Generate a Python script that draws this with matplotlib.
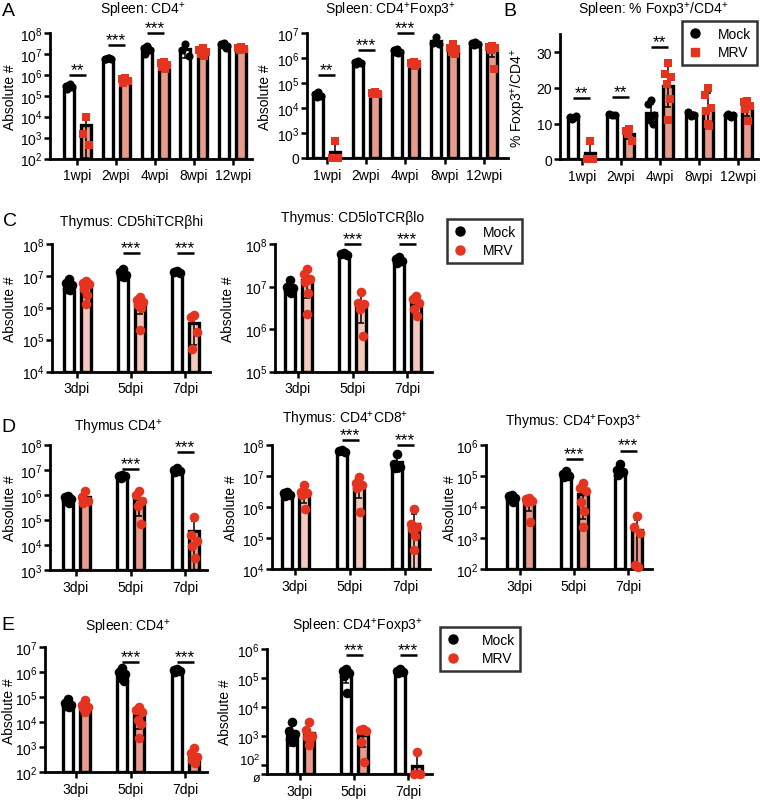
import numpy as np
import matplotlib
matplotlib.use('Agg')
import matplotlib.pyplot as plt
from matplotlib.lines import Line2D
from matplotlib.ticker import NullLocator

plt.rcParams['font.family'] = ['Liberation Sans', 'DejaVu Sans']
plt.rcParams['mathtext.fontset'] = 'custom'
plt.rcParams['mathtext.rm'] = 'Liberation Sans'
plt.rcParams['mathtext.it'] = 'Liberation Sans:italic'
plt.rcParams['mathtext.bf'] = 'Liberation Sans:bold'

# ---------------- data ----------------
wpi_labels = ['1wpi', '2wpi', '4wpi', '8wpi', '12wpi']
dpi_labels = ['3dpi', '5dpi', '7dpi']

# A: Spleen CD4+
A_cd4_mock = [[3.2e5, 2.8e5, 2.5e5, 2.2e5, 3.5e5], [6.5e6, 6e6, 5.5e6, 5.8e6, 6.2e6],
              [2.3e7, 2e7, 1.5e7, 1e7, 1.8e7, 2.2e7], [3e7, 1.5e7, 8e6], [3.2e7, 3e7, 2.5e7, 2.8e7, 2e7]]
A_cd4_mrv = [[1e4, 1.5e3, 4.5e2], [7e5, 6e5, 5e5, 4e5], [4e6, 3.5e6, 3e6, 2.5e6, 2e6],
             [2e7, 1.5e7, 1.2e7, 1e7, 8e6], [2.2e7, 2e7, 1.8e7, 1.5e7]]
A_cd4_sig_groups = [0, 1, 2]
A_cd4_sig_labels = ['**', '***', '***']
A_cd4_sig_y = [1e6, 2.6e7, 1e8]

# A: Spleen CD4+Foxp3+
A_treg_mock = [[4.5e4, 3.5e4, 3e4, 2.8e4], [7.5e5, 7e5, 6.5e5, 6e5], [2.2e6, 2e6, 1.8e6, 1.7e6, 1.6e6],
               [7e6, 4e6, 3.5e6], [4.5e6, 4e6, 3.5e6, 3.2e6]]
A_treg_mrv = [[5e2, 0, 0], [4.2e4, 4e4, 3.8e4, 3.7e4], [7e5, 6.5e5, 6e5, 5.5e5, 5e5],
              [3.5e6, 2.5e6, 2.2e6, 1.8e6, 1.5e6], [3e6, 2.8e6, 2.5e6, 2e6, 3.5e5]]
A_treg_sig_groups = [0, 1, 2]
A_treg_sig_labels = ['**', '***', '***']
A_treg_sig_y = [2.1e5, 2.1e6, 1e7]

# B: % Foxp3+/CD4+
B_mock = [[11.5, 11.8, 12, 11.2], [12.5, 12.8, 12.3], [16.5, 15.5, 12.5, 11, 10, 12],
          [12, 13.3, 12.5], [12, 12.5, 12.3, 12.8, 11.8]]
B_mrv = [[5.2, 0, 0.2], [8.5, 8, 5.2, 7], [27, 24, 23, 21, 17, 11],
         [20, 18, 14.5, 13.5, 9.4, 10], [16.3, 16, 15, 14, 10.7]]
B_sig_groups = [0, 1, 2]
B_sig_labels = ['**', '**', '**']
B_sig_y = [17.1, 17.4, 31.4]

# C: Thymus CD5hiTCRbhi
C_hi_mock = [[8e6, 6e6, 5e6, 4e6, 3.5e6], [1.6e7, 1.3e7, 1.1e7, 1e7, 9e6], [1.4e7, 1.3e7, 1.2e7]]
C_hi_mrv = [[7e6, 6e6, 5.5e6, 4e6, 2.5e6, 1.3e6], [2.2e6, 1.8e6, 1.5e6, 1.2e6, 1e6, 2e5],
            [6e5, 5e5, 1.7e5, 5e4]]
C_hi_sig_groups = [1, 2]
C_hi_sig_labels = ['***', '***']
C_hi_sig_y = [5.1e7, 5.1e7]

# C: Thymus CD5loTCRblo
C_lo_mock = [[1.4e7, 1e7, 9e6, 8e6, 7e6], [6e7, 5.8e7, 5.5e7], [5e7, 4.5e7, 4e7, 3.5e7]]
C_lo_mrv = [[2.6e7, 2e7, 1.5e7, 1.3e7, 7e6, 2.2e6], [7.5e6, 4e6, 3.8e6, 3e6, 7e5],
            [6e6, 5e6, 4e6, 3e6, 2e6]]
C_lo_sig_groups = [1, 2]
C_lo_sig_labels = ['***', '***']
C_lo_sig_y = [1e8, 1e8]

# D: Thymus CD4+
D_cd4_mock = [[9e5, 8e5, 7e5, 6e5, 5e5], [6.5e6, 6e6, 5.5e6, 5e6], [1.2e7, 1e7, 9e6, 8e6]]
D_cd4_mrv = [[1.4e6, 8e5, 6e5, 5e5], [1.5e6, 1e6, 6e5, 3.5e5, 7e4], [1.3e5, 2.5e4, 1.5e4, 9e3, 3e3]]
D_cd4_sig_groups = [1, 2]
D_cd4_sig_labels = ['***', '***']
D_cd4_sig_y = [1.1e7, 5.1e7]

# D: Thymus CD4+CD8+
D_dp_mock = [[3e6, 2.8e6, 2.5e6, 2.2e6], [7e7, 6.5e7, 6e7], [5e7, 2.5e7, 2e7, 1.8e7]]
D_dp_mrv = [[5e6, 3e6, 2.8e6, 2.5e6, 8.5e5], [9e6, 6e6, 5e6, 4e6, 7e5],
            [8.5e5, 2.8e5, 2.2e5, 1.9e5, 1.2e5, 4e4]]
D_dp_sig_groups = [1, 2]
D_dp_sig_labels = ['***', '***']
D_dp_sig_y = [1.4e8, 1e8]

# D: Thymus CD4+Foxp3+
D_treg_mock = [[2.5e4, 2.2e4, 2e4, 1.8e4, 1.5e4], [1.5e5, 1.2e5, 1e5, 9e4], [2.4e5, 1.6e5, 1.3e5, 1.1e5]]
D_treg_mrv = [[2e4, 1.8e4, 1.6e4, 1.4e4, 3.2e3], [6e4, 4e4, 3.4e4, 1.4e4, 7.5e3, 2.2e3],
              [5.2e3, 2.2e3, 1.5e3, 1.3e2, 1.2e2]]
D_treg_sig_groups = [1, 2]
D_treg_sig_labels = ['***', '***']
D_treg_sig_y = [3.5e5, 6.6e5]

# E: Spleen CD4+
E_cd4_mock = [[8e4, 6e4, 5e4, 4.5e4, 4e4], [1.5e6, 1e6, 8e5, 6e5, 4.5e5], [1.3e6, 1.2e6, 1.1e6, 1e6]]
E_cd4_mrv = [[7.5e4, 5e4, 4e4, 3.5e4, 3e4, 2.5e4], [4e4, 3e4, 2.5e4, 1.2e4, 8e3, 2.3e3],
             [9e2, 6e2, 4e2, 3e2, 2.2e2]]
E_cd4_sig_groups = [1, 2]
E_cd4_sig_labels = ['***', '***']
E_cd4_sig_y = [2.5e6, 2.5e6]

# E: Spleen CD4+Foxp3+
E_treg_mock = [[3e3, 1.5e3, 1.2e3, 8e2, 6e2], [2e5, 1.8e5, 1.5e5, 1.2e5, 3e4], [2e5, 1.8e5, 1.6e5, 1.5e5]]
E_treg_mrv = [[3e3, 1.6e3, 1e3, 9e2, 8e2, 5e2], [1.8e3, 1.6e3, 1.5e3, 6e2, 1.3e2], [2.8e2, 0, 0]]
E_treg_sig_groups = [1, 2]
E_treg_sig_labels = ['***', '***']
E_treg_sig_y = [6.2e5, 6.2e5]

# ---------------- style ----------------
RED = '#E4341F'
SALMON = '#E99B8B'
PALE = '#F5C8BE'
W, H = 760, 803

fig = plt.figure(figsize=(W / 100, H / 100), dpi=100)


def make_axes(l, t, r, b):
    return fig.add_axes([l / W, 1 - b / H, (r - l) / W, (b - t) / H])


def decade_labels(lo, hi):
    return [10.0 ** k for k in range(lo, hi + 1)], [r'$10^{%d}$' % k for k in range(lo, hi + 1)]


def panel(box, first_px, spacing_px, mock, mrv, ylim, yticks, yticklabels, xlabels,
          sig_groups, sig_labels, sig_y, fill, mrv_marker, log=True, msize=38):
    l, t, r, b = box
    ax = make_axes(l, t, r, b)
    n = len(mock)
    x = np.arange(n)
    xl = (l - first_px) / spacing_px
    xr = (r - first_px) / spacing_px
    off = 8.5 / spacing_px
    bw = 10.0 / spacing_px
    y0 = ylim[0]
    if log:
        ax.set_yscale('log')
    mock_mean = np.array([np.mean(p) for p in mock])
    mrv_mean = np.array([np.mean(p) for p in mrv])
    mock_sd = np.array([np.std(p, ddof=1) for p in mock])
    mrv_sd = np.array([np.std(p, ddof=1) for p in mrv])
    ax.bar(x - off, mock_mean - y0, bw, bottom=y0, color='white', edgecolor='black', linewidth=2.4, zorder=2)
    ax.bar(x + off, mrv_mean - y0, bw, bottom=y0, color=fill, edgecolor='black', linewidth=2.4, zorder=2)
    for xs, mn, sd in ((x - off, mock_mean, mock_sd), (x + off, mrv_mean, mrv_sd)):
        lower = np.minimum(sd, mn - y0 * 1.0001)
        ax.errorbar(xs, mn, yerr=[lower, sd], fmt='none', ecolor='black', elinewidth=1.1,
                    capsize=2.5, capthick=1.1, zorder=3)
    jit = np.array([0, -3, 3, -1.5, 1.5, 0, -3, 3]) / spacing_px
    for i in range(n):
        pm = np.maximum(np.array(mock[i], float), y0)
        pr = np.maximum(np.array(mrv[i], float), y0)
        ax.scatter(x[i] - off + jit[:len(pm)], pm, s=msize, marker='o', color='black',
                   zorder=4, clip_on=False, linewidths=0)
        ax.scatter(x[i] + off + jit[:len(pr)], pr, s=msize * (0.8 if mrv_marker == 's' else 1.0),
                   marker=mrv_marker, color=RED, zorder=4, clip_on=False, linewidths=0)
    for g, lab, yv in zip(sig_groups, sig_labels, sig_y):
        ax.plot([g - off, g + off], [yv, yv], color='black', lw=1.8, clip_on=False, zorder=5,
                solid_capstyle='butt')
        ax.annotate(lab, (g, yv), xytext=(0, 0.8), textcoords='offset points', ha='center',
                    va='baseline', fontsize=12.5, annotation_clip=False)
    ax.set_xlim(xl, xr)
    ax.set_ylim(*ylim)
    ax.yaxis.set_minor_locator(NullLocator())
    ax.set_yticks(yticks)
    ax.set_yticklabels(yticklabels)
    ax.set_xticks(x)
    ax.set_xticklabels(xlabels)
    for s in ('top', 'right'):
        ax.spines[s].set_visible(False)
    for s in ('left', 'bottom'):
        ax.spines[s].set_linewidth(2.0)
    ax.tick_params(axis='both', width=1.8, length=4.0, labelsize=10, pad=1.5)
    ax.tick_params(axis='x', labelsize=10, pad=3)
    return ax


# ---- Panel A left
t, l = decade_labels(2, 8)
panel((50, 34, 252, 159.5), 77, 39, A_cd4_mock, A_cd4_mrv, (1e2, 1e8), t, l, wpi_labels,
      A_cd4_sig_groups, A_cd4_sig_labels, A_cd4_sig_y, SALMON, 's', msize=34)

# ---- Panel A middle
t, l = decade_labels(2, 7)
l[0] = '0'
panel((307, 34, 508, 159), 326.7, 39.3, A_treg_mock, A_treg_mrv, (1e2, 1e7), t, l, wpi_labels,
      A_treg_sig_groups, A_treg_sig_labels, A_treg_sig_y, SALMON, 's', msize=34)

# ---- Panel B
axB = panel((560, 35.4, 758, 160.3), 581.7, 39.1, B_mock, B_mrv, (0, 35), [0, 10, 20, 30],
            ['0', '10', '20', '30'], wpi_labels, B_sig_groups, B_sig_labels, B_sig_y, SALMON, 's',
            log=False, msize=34)

# ---- Panel C
t, l = decade_labels(4, 8)
panel((52, 245, 210, 372.5), 77, 54, C_hi_mock, C_hi_mrv, (1e4, 1e8), t, l, dpi_labels,
      C_hi_sig_groups, C_hi_sig_labels, C_hi_sig_y, PALE, 'o', msize=48)
t, l = decade_labels(5, 8)
panel((275, 245, 432, 372.5), 298, 54.5, C_lo_mock, C_lo_mrv, (1e5, 1e8), t, l, dpi_labels,
      C_lo_sig_groups, C_lo_sig_labels, C_lo_sig_y, PALE, 'o', msize=48)

# ---- Panel D
t, l = decade_labels(3, 8)
panel((50, 446, 207, 571), 76, 54.5, D_cd4_mock, D_cd4_mrv, (1e3, 1e8), t, l, dpi_labels,
      D_cd4_sig_groups, D_cd4_sig_labels, D_cd4_sig_y, SALMON, 'o', msize=48)
t, l = decade_labels(4, 8)
panel((272, 446, 430, 570), 295, 55, D_dp_mock, D_dp_mrv, (1e4, 1e8), t, l, dpi_labels,
      D_dp_sig_groups, D_dp_sig_labels, D_dp_sig_y, PALE, 'o', msize=48)
t, l = decade_labels(2, 6)
panel((486, 446, 652, 570), 520, 54, D_treg_mock, D_treg_mrv, (1e2, 1e6), t, l, dpi_labels,
      D_treg_sig_groups, D_treg_sig_labels, D_treg_sig_y, SALMON, 'o', msize=48)

# ---- Panel E
t, l = decade_labels(2, 7)
panel((45, 648, 207, 773), 76, 54.5, E_cd4_mock, E_cd4_mrv, (1e2, 1e7), t, l, dpi_labels,
      E_cd4_sig_groups, E_cd4_sig_labels, E_cd4_sig_y, SALMON, 'o', msize=48)
t, l = decade_labels(2, 6)
y_zero = 10 ** 1.69
t = [y_zero] + t
l = ['', ''] + l[1:]
axE2 = panel((267, 650, 432, 775), 300, 54, E_treg_mock, E_treg_mrv, (y_zero, 1e6), t, l, dpi_labels,
             E_treg_sig_groups, E_treg_sig_labels, E_treg_sig_y, SALMON, 'o', msize=48)
# the two crowded lowest labels, nudged apart
axE2.annotate(r'$10^{2}$', (0, 100), xycoords=('axes fraction', 'data'), xytext=(-4.5, 3.5),
              textcoords='offset points', ha='right', va='center', fontsize=9.5, annotation_clip=False)
axE2.annotate('ø', (0, y_zero), xycoords=('axes fraction', 'data'), xytext=(-4.5, -3.0),
              textcoords='offset points', ha='right', va='center', fontsize=9, annotation_clip=False)

# ---- titles
titles = [
    (143, 10, 'Spleen: CD4$^{+}$'),
    (390, 10, 'Spleen: CD4$^{+}$Foxp3$^{+}$'),
    (653, 10, 'Spleen: % Foxp3$^{+}$/CD4$^{+}$'),
    (132, 222, 'Thymus: CD5hiTCRβhi'),
    (353, 218, 'Thymus: CD5loTCRβlo'),
    (118, 428, 'Thymus CD4$^{+}$'),
    (345, 420, 'Thymus: CD4$^{+}$CD8$^{+}$'),
    (573, 423, 'Thymus: CD4$^{+}$Foxp3$^{+}$'),
    (128, 628, 'Spleen: CD4$^{+}$'),
    (357, 627, 'Spleen: CD4$^{+}$Foxp3$^{+}$'),
]
for xp, yp, s in titles:
    fig.text(xp / W, 1 - yp / H, s, ha='center', va='center', fontsize=10)

letters = [(8, 11, 'A'), (510, 11, 'B'), (10, 222, 'C'), (8, 428, 'D'), (8, 626, 'E')]
for xp, yp, s in letters:
    fig.text(xp / W, 1 - yp / H, s, ha='center', va='center', fontsize=14)

ylabels = [
    (10, 97, 'Absolute #'), (265, 97, 'Absolute #'), (519, 98, '% Foxp3$^{+}$/CD4$^{+}$'),
    (10, 309, 'Absolute #'), (228, 309, 'Absolute #'),
    (10, 508, 'Absolute #'), (231, 508, 'Absolute #'), (450, 508, 'Absolute #'),
    (9, 711, 'Absolute #'), (225, 712, 'Absolute #'),
]
for xp, yp, s in ylabels:
    fig.text(xp / W, 1 - yp / H, s, ha='center', va='center', rotation=90, fontsize=10)

# ---- legends
def add_legend(x0, y0, mrv_marker, hpad):
    h = [Line2D([], [], ls='none', marker='o', color='black', markersize=6.5),
         Line2D([], [], ls='none', marker=mrv_marker, color=RED, markersize=6.5 if mrv_marker == 'o' else 5.8)]
    leg = fig.legend(h, ['Mock', 'MRV'], loc='upper left', bbox_to_anchor=(x0 / W, 1 - y0 / H),
                     frameon=True, fancybox=False, edgecolor='black', fontsize=10,
                     handlelength=1.0, handletextpad=hpad, borderpad=0.4, labelspacing=0.35,
                     borderaxespad=0)
    leg.get_frame().set_linewidth(1.8)
    return leg

add_legend(682, 22, 's', 1.2)
add_legend(447, 220, 'o', 1.2)
add_legend(440, 628, 'o', 1.6)

fig.savefig('out.png', dpi=100)
